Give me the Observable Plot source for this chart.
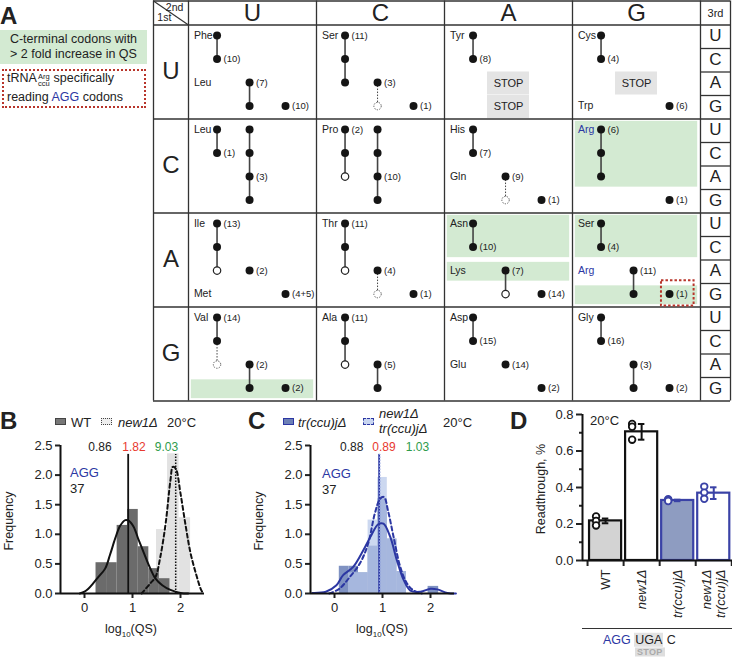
<!DOCTYPE html>
<html><head><meta charset="utf-8">
<script src="https://cdn.jsdelivr.net/npm/d3@7"></script>
<script src="https://cdn.jsdelivr.net/npm/@observablehq/plot@0.6"></script>
<style>
body{margin:0;background:#fff;font-family:"Liberation Sans",Arial,Helvetica,sans-serif;color:#222}
#fig{position:relative;width:732px;height:658px;overflow:hidden;background:#fff}
.abs{position:absolute;white-space:nowrap;line-height:1}
svg{overflow:visible}
.stk{display:inline-block;vertical-align:-4px;font-size:7.5px;line-height:7.5px;margin:0 4px 0 1px}
</style></head><body><div id="fig"></div>
<script>
// ---------------- DATA ----------------
const bases = ["U","C","A","G"];
// amino-acid labels: [first codon of the block, name]
const aaLabels = [["UUU","Phe"],["UUA","Leu"],["UCU","Ser"],["UAU","Tyr"],["UGU","Cys"],["UGG","Trp"],
  ["CUU","Leu"],["CCU","Pro"],["CAU","His"],["CAA","Gln"],["CGU","Arg"],
  ["AUU","Ile"],["AUG","Met"],["ACU","Thr"],["AAU","Asn"],["AAA","Lys"],["AGU","Ser"],["AGA","Arg"],
  ["GUU","Val"],["GCU","Ala"],["GAU","Asp"],["GAA","Glu"],["GGU","Gly"]];
// decoding dots: [codon, tRNA column, kind (f filled / o open / d dashed), tRNA gene count]
const decodeDots = [
  ["UUU",1,"f",""],["UUC",1,"f","(10)"],["UUA",2,"f","(7)"],["UUG",2,"f",""],["UUG",3,"f","(10)"],
  ["UCU",1,"f","(11)"],["UCC",1,"f",""],["UCA",1,"f",""],["UCA",2,"f","(3)"],["UCG",2,"d",""],["UCG",3,"f","(1)"],
  ["UAU",1,"f",""],["UAC",1,"f","(8)"],
  ["UGU",1,"f",""],["UGC",1,"f","(4)"],["UGG",3,"f","(6)"],
  ["CUU",1,"f",""],["CUC",1,"f","(1)"],["CUU",2,"f",""],["CUC",2,"f",""],["CUA",2,"f","(3)"],["CUG",2,"f",""],
  ["CCU",1,"f","(2)"],["CCC",1,"f",""],["CCA",1,"o",""],["CCU",2,"f",""],["CCC",2,"f",""],["CCA",2,"f","(10)"],["CCG",2,"f",""],
  ["CAU",1,"f",""],["CAC",1,"f","(7)"],["CAA",2,"f","(9)"],["CAG",2,"d",""],["CAG",3,"f","(1)"],
  ["CGU",1,"f","(6)"],["CGC",1,"f",""],["CGA",1,"f",""],["CGG",3,"f","(1)"],
  ["AUU",1,"f","(13)"],["AUC",1,"f",""],["AUA",1,"o",""],["AUA",2,"f","(2)"],["AUG",3,"f","(4+5)"],
  ["ACU",1,"f","(11)"],["ACC",1,"f",""],["ACA",1,"o",""],["ACA",2,"f","(4)"],["ACG",2,"d",""],["ACG",3,"f","(1)"],
  ["AAU",1,"f",""],["AAC",1,"f","(10)"],["AAA",2,"f","(7)"],["AAG",2,"o",""],["AAG",3,"f","(14)"],
  ["AGU",1,"f",""],["AGC",1,"f","(4)"],["AGA",2,"f","(11)"],["AGG",2,"f",""],["AGG",3,"f","(1)"],
  ["GUU",1,"f","(14)"],["GUC",1,"f",""],["GUA",1,"d",""],["GUA",2,"f","(2)"],["GUG",2,"f",""],["GUG",3,"f","(2)"],
  ["GCU",1,"f","(11)"],["GCC",1,"f",""],["GCA",1,"o",""],["GCA",2,"f","(5)"],["GCG",2,"f",""],
  ["GAU",1,"f",""],["GAC",1,"f","(15)"],["GAA",2,"f","(14)"],["GAG",3,"f","(2)"],
  ["GGU",1,"f",""],["GGC",1,"f","(16)"],["GGA",2,"f","(3)"],["GGG",2,"f",""],["GGG",3,"f","(2)"]];
// connections: [from codon, to codon, tRNA column, s solid / d dotted]
const decodeLinks = [
  ["UUU","UUC",1,"s"],["UUA","UUG",2,"s"],["UCU","UCA",1,"s"],["UCA","UCG",2,"d"],["UAU","UAC",1,"s"],["UGU","UGC",1,"s"],
  ["CUU","CUC",1,"s"],["CUU","CUG",2,"s"],["CCU","CCA",1,"s"],["CCU","CCG",2,"s"],["CAU","CAC",1,"s"],["CAA","CAG",2,"d"],["CGU","CGA",1,"s"],
  ["AUU","AUA",1,"s"],["ACU","ACA",1,"s"],["ACA","ACG",2,"d"],["AAU","AAC",1,"s"],["AAA","AAG",2,"s"],["AGU","AGC",1,"s"],["AGA","AGG",2,"s"],
  ["GUU","GUC",1,"s"],["GUC","GUA",1,"d"],["GUA","GUG",2,"s"],["GCU","GCA",1,"s"],["GCA","GCG",2,"s"],["GAU","GAC",1,"s"],["GGU","GGC",1,"s"],["GGA","GGG",2,"s"]];
// C-terminal codons with >2 fold QS increase: [first codon, last codon]
const qsUp = [["CGU","CGA"],["AAU","AAC"],["AAA","AAA"],["AGU","AGC"],["AGG","AGG"],["GUG","GUG"]];
const stopCodons = ["UAA","UAG","UGA"];
const aggCodon = "AGG";

// Panel B / C histograms: [bin start, bin end, frequency]
const wtHist = [[0.24,0.46,0.52],[0.46,0.68,0.52],[0.68,0.90,1.15],[0.90,1.12,1.42],[1.12,1.34,0.79],[1.34,1.56,0.42],[1.56,1.78,0.25]];
const new1Hist = [[1.28,1.50,0.25],[1.50,1.73,1.08],[1.73,1.97,2.36],[1.97,2.21,1.28]];
const wtDensity = [[-0.1,0],[0.0,0.03],[0.08,0.08],[0.18,0.17],[0.29,0.28],[0.43,0.42],[0.53,0.65],[0.64,0.93],[0.74,1.14],[0.85,1.24],[0.92,1.23],[1.02,1.13],[1.13,0.9],[1.23,0.7],[1.34,0.48],[1.48,0.25],[1.62,0.14],[1.79,0.06],[2.0,0.01],[2.16,0]];
const new1Density = [[1.19,0],[1.37,0.17],[1.48,0.28],[1.58,0.62],[1.69,1.18],[1.79,1.91],[1.84,2.14],[1.90,2.11],[2.0,1.69],[2.11,1.13],[2.21,0.68],[2.32,0.34],[2.42,0.08],[2.47,0]];
const bMedians = [0.91, 1.90];        // solid WT, dotted new1Δ
const bStats = ["0.86","1.82","9.03"];
const trHist = [[0.10,0.30,0.46],[0.30,0.50,0.46],[0.50,0.70,0.35],[0.70,0.90,0.80],[0.90,1.10,1.60],[1.10,1.30,0.92],[1.30,1.50,0.37],[1.95,2.17,0.12]];
const dblHist = [[0.30,0.50,0.35],[0.50,0.70,0.35],[0.70,0.90,1.24],[0.90,1.10,1.96],[1.10,1.30,0.92],[1.30,1.50,0.37]];
const trDensity = [[-0.46,0.01],[-0.18,0.03],[0.04,0.14],[0.18,0.31],[0.39,0.45],[0.6,0.73],[0.77,0.99],[0.91,1.17],[1.02,1.18],[1.16,0.96],[1.30,0.56],[1.44,0.23],[1.58,0.05],[1.79,0.03],[2.0,0.08],[2.14,0.07],[2.35,0.01],[2.53,0]];
const dblDensity = [[-0.11,0],[0.1,0.08],[0.32,0.28],[0.53,0.51],[0.7,0.84],[0.84,1.35],[0.95,1.6],[1.03,1.63],[1.12,1.38],[1.23,0.96],[1.37,0.45],[1.51,0.17],[1.65,0.05],[1.82,0]];
const cMedians = [0.93, 0.94];
const cStats = ["0.88","0.89","1.03"];

// Panel D
const strains = ["WT","new1Δ","tr(ccu)jΔ","new1Δ\ntr(ccu)jΔ"];
const rtMean = [0.217, 0.705, 0.329, 0.369];
const rtErr = [0.013, 0.043, 0.004, 0.032];
const rtReps = [[0.241,0.217,0.192],[0.748,0.733,0.662],[0.336,0.331,0.326],[0.405,0.372,0.338]];

// ---------------- LAYOUT HELPERS ----------------
const FONT = '"Liberation Sans",Arial,Helvetica,sans-serif';
const BLUE = "#2c37a3", RED = "#e8392f", GREEN = "#2e9b4b";
const fig = document.getElementById("fig");
function txt(html, x, y, css = "", anchor = "start") {
  const d = document.createElement("div");
  d.className = "abs"; d.innerHTML = html; d.style.cssText += css;
  d.style.left = x + "px"; d.style.top = y + "px";
  const tx = anchor === "middle" ? "-50%" : anchor === "end" ? "-100%" : "0";
  d.style.transform = `translate(${tx},-50%)`;
  fig.appendChild(d); return d;
}
function vtxt(html, x, y, css = "") {
  const d = document.createElement("div");
  d.className = "abs"; d.innerHTML = html; d.style.cssText += css;
  d.style.left = x + "px"; d.style.top = y + "px";
  d.style.transform = "translate(-50%,-50%) rotate(-90deg)";
  fig.appendChild(d); return d;
}
function box(x, y, w, h, css) {
  const d = document.createElement("div");
  d.className = "abs"; d.style.cssText = `left:${x}px;top:${y}px;width:${w}px;height:${h}px;box-sizing:border-box;` + css;
  fig.appendChild(d); return d;
}
function put(svg, x, y) { svg.style.position = "absolute"; svg.style.left = x + "px"; svg.style.top = y + "px"; fig.appendChild(svg); }

// ---------------- PANEL A ----------------
const bi = b => bases.indexOf(b);
const row = c => bi(c[0]) * 4 + bi(c[2]);
const col = c => bi(c[1]);
const tOff = [0, 0.223, 0.477, 0.758];
const X0 = -35 / 128, X1 = 4 + 30 / 128, Y0 = -24 / 23.5, Y1 = 16;
const dots = decodeDots.map(([c, t, k, n]) => ({c, t, k, n}));
const links = decodeLinks.map(([a, b, t, s]) => ({a, b, t, s}));
const labs = aaLabels.map(([c, aa]) => ({c, aa}));
const subrows = d3.range(16);
const cy = c => row(c) + 0.45;
const dx = d => col(d.c) + tOff[d.t];

const table = Plot.plot({
  width: 580, height: 402, margin: 0,
  x: {domain: [X0, X1], range: [1, 578], axis: null},
  y: {domain: [Y0, Y1], range: [0.5, 400.5], axis: null},
  style: {fontFamily: FONT, background: "transparent", color: "#222"},
  marks: [
    Plot.rect(qsUp, {x1: d => col(d[0]) + 0.022, x2: d => col(d[0]) + 0.978, y1: d => row(d[0]) + 0.1, y2: d => row(d[1]) + 0.9, fill: "#d3ead2"}),
    Plot.rect(stopCodons, {x1: d => col(d) + 0.336, x2: d => col(d) + 0.664, y1: d => row(d), y2: d => row(d) + 0.98, fill: "#e4e4e4"}),
    Plot.text(stopCodons, {x: d => col(d) + 0.5, y: d => row(d) + 0.47, text: () => "STOP", fontSize: 11, fill: "#222"}),
    Plot.ruleX([X0, 0, 1, 2, 3, 4, X1], {x: d => d, y1: () => Y0, y2: () => Y1, stroke: "#333", strokeWidth: 1.3}),
    Plot.ruleY([Y0, 0, 4, 8, 12, 16], {y: d => d, x1: () => X0, x2: () => X1, stroke: "#333", strokeWidth: 1.3}),
    Plot.ruleY(subrows.filter(s => s % 4), {y: d => d, x1: () => 4, x2: () => X1, stroke: "#333", strokeWidth: 1.3}),
    Plot.link([0], {x1: () => X0, y1: () => Y0, x2: () => 0, y2: () => 0, stroke: "#333", strokeWidth: 1.2}),
    Plot.text(["2nd"], {x: () => -0.04, y: () => Y0 * 0.72, text: d => d, textAnchor: "end", fontSize: 10.5}),
    Plot.text(["1st"], {x: () => X0 + 0.03, y: () => Y0 * 0.3, text: d => d, textAnchor: "start", fontSize: 10.5}),
    Plot.text(["3rd"], {x: () => (4 + X1) / 2, y: () => Y0 / 2, text: d => d, fontSize: 11}),
    Plot.text(bases, {x: (d, i) => i + 0.5, y: () => Y0 / 2 + 0.02, text: d => d, fontSize: 24}),
    Plot.text(bases, {x: () => X0 / 2, y: (d, i) => i * 4 + 1.95, text: d => d, fontSize: 24}),
    Plot.text(subrows, {x: () => (4 + X1) / 2, y: d => d + 0.47, text: d => bases[d % 4], fontSize: 17}),
    Plot.text(labs, {x: d => col(d.c) + 0.042, y: d => cy(d.c), text: "aa", textAnchor: "start", fontSize: 10.5, fill: d => d.aa === "Arg" ? BLUE : "#222"}),
    Plot.link(links.filter(l => l.s === "s"), {x1: l => col(l.a) + tOff[l.t], x2: l => col(l.a) + tOff[l.t], y1: l => cy(l.a), y2: l => cy(l.b), stroke: "#444", strokeWidth: 1.6}),
    Plot.link(links.filter(l => l.s === "d"), {x1: l => col(l.a) + tOff[l.t], x2: l => col(l.a) + tOff[l.t], y1: l => cy(l.a), y2: l => cy(l.b), stroke: "#444", strokeWidth: 1, strokeDasharray: "1.5,1.5"}),
    Plot.dot(dots.filter(d => d.k === "f"), {x: dx, y: d => cy(d.c), r: 4, fill: "#151515"}),
    Plot.dot(dots.filter(d => d.k === "o"), {x: dx, y: d => cy(d.c), r: 3.7, fill: "white", stroke: "#222", strokeWidth: 1.2}),
    Plot.dot(dots.filter(d => d.k === "d"), {x: dx, y: d => cy(d.c), r: 3.7, fill: "white", stroke: "#555", strokeWidth: 1, strokeDasharray: "1.3,1.3"}),
    Plot.text(dots.filter(d => d.n), {x: dx, y: d => cy(d.c), text: "n", dx: 6.5, textAnchor: "start", fontSize: 9.5, fill: "#222"}),
    Plot.rect([aggCodon], {x1: d => col(d) + 0.695, x2: d => col(d) + 0.95, y1: d => row(d) - 0.12, y2: d => row(d) + 0.96, fill: "none", stroke: "#b8352b", strokeWidth: 2, strokeDasharray: "2.5,2"})
  ]
});
put(table, 152, 0);

txt("A", 0, 16, "font-weight:bold;font-size:24px");
box(0, 30, 147, 34, "background:#d3ead2");
txt("C-terminal codons with<br>&gt; 2 fold increase in QS", 73.5, 47, "font-size:12.5px;line-height:15px;text-align:center;color:#222", "middle");
box(2, 69, 144, 39, "border:2px dotted #b8352b");
txt('tRNA<span class="stk">Arg<br>ccu</span>specifically', 7, 80, "font-size:12.5px;color:#222");
txt(`reading <span style="color:${BLUE}">AGG</span> codons`, 7, 97, "font-size:12.5px;color:#222");

// ---------------- PANELS B & C (histograms) ----------------
function histPlot(o) {
  return Plot.plot({
    width: 215, height: 210, marginLeft: 60, marginRight: 11, marginTop: 5, marginBottom: 57,
    x: {domain: [-0.5, 2.5]}, y: {domain: [0, 2.5]},
    style: {fontFamily: FONT, fontSize: "13px", color: "#222", background: "transparent"},
    marks: [
      Plot.rectY(o.h2, {x1: d => d[0], x2: d => d[1], y: d => d[2], fill: o.c2, fillOpacity: o.op2}),
      Plot.rectY(o.h1, {x1: d => d[0], x2: d => d[1], y: d => d[2], fill: o.c1, fillOpacity: o.op1}),
      Plot.ruleX([o.med[0]], {y1: () => 0, y2: () => 2.35, stroke: o.lc, strokeWidth: 1.8}),
      Plot.ruleX([o.med[1]], {y1: () => 0, y2: () => 2.35, stroke: o.lc2, strokeWidth: 1.5, strokeDasharray: "1.5,1.5"}),
      Plot.line(o.d1, {x: d => d[0], y: d => d[1], curve: "catmull-rom", stroke: o.lc, strokeWidth: 2}),
      Plot.line(o.d2, {x: d => d[0], y: d => d[1], curve: "catmull-rom", stroke: o.lc, strokeWidth: 2, strokeDasharray: "4,3"}),
      Plot.axisX({ticks: [0, 1, 2], tickFormat: d => String(d), tickSize: 5, tickPadding: 4, label: null, strokeWidth: 2}),
      Plot.axisY({ticks: d3.range(0, 2.51, 0.5), tickFormat: d3.format(".1f"), tickSize: 5, tickPadding: 3, label: null, strokeWidth: 2}),
      Plot.ruleY([0], {stroke: "#111", strokeWidth: 2}),
      Plot.ruleX([-0.5], {y1: () => 0, y2: () => 2.5, stroke: "#111", strokeWidth: 2})
    ]
  });
}
put(histPlot({h1: wtHist, h2: new1Hist, c1: "#6b6b6b", c2: "#e2e2e2", op1: 1, op2: 1, d1: wtDensity, d2: new1Density, med: bMedians, lc: "#111", lc2: "#111"}), 0, 440);
put(histPlot({h1: dblHist, h2: trHist, c1: "#b7c8ea", c2: "#7f92c2", op1: 0.7, op2: 1, d1: trDensity, d2: dblDensity, med: cMedians, lc: BLUE, lc2: "#8899dd"}), 250, 440);

// B texts
txt("B", 0, 421, "font-weight:bold;font-size:24px");
box(55, 418, 11, 7, "background:#777;border:1px solid #444");
txt("WT", 71, 422, "font-size:13px");
box(101, 418, 11, 7, "background:#eee;border:1px dotted #444");
txt("<i>new1Δ</i>", 118, 422, "font-size:13px");
txt("20°C", 167, 422, "font-size:13px");
[[100, "#222"], [134, RED], [166.5, GREEN]].forEach((s, i) => txt(bStats[i], s[0], 447, `font-size:12px;color:${s[1]}`, "middle"));
txt("AGG", 70, 472, `font-size:13px;color:${BLUE}`);
txt("37", 70, 488, "font-size:13px");
vtxt("Frequency", 9, 521, "font-size:12.5px");
txt("log<sub style='font-size:8px'>10</sub>(QS)", 131, 631, "font-size:12.5px", "middle");

// C texts
txt("C", 248, 421, "font-weight:bold;font-size:24px");
box(283, 418, 11, 7, "background:#6d80b6;border:1px solid #2c37a3");
txt("<i>tr(ccu)jΔ</i>", 298, 422, "font-size:13px");
box(363, 418, 11, 7, "background:#c8d5f0;border:1px dashed #2c37a3");
txt("<i>new1Δ</i>", 379, 413, "font-size:13px");
txt("<i>tr(ccu)jΔ</i>", 379, 428, "font-size:13px");
txt("20°C", 443, 422, "font-size:13px");
[[351.7, "#222"], [384, RED], [417.5, GREEN]].forEach((s, i) => txt(cStats[i], s[0], 447, `font-size:12px;color:${s[1]}`, "middle"));
txt("AGG", 322, 473, `font-size:13px;color:${BLUE}`);
txt("37", 322, 489, "font-size:13px");
vtxt("Frequency", 259, 521, "font-size:12.5px");
txt("log<sub style='font-size:8px'>10</sub>(QS)", 382, 631, "font-size:12.5px", "middle");

// ---------------- PANEL D ----------------
const dData = strains.map((s, i) => ({s, i, m: rtMean[i], e: rtErr[i]}));
const dReps = rtReps.flatMap((r, i) => r.map(v => ({i, v})));
const isBlue = i => i >= 2;
const ink = d => isBlue(d.i) ? "#3a42a6" : "#111";
const dPlot = Plot.plot({
  width: 242, height: 258, marginLeft: 92, marginRight: 0, marginTop: 14, marginBottom: 98,
  x: {domain: [-0.64, 3.52]}, y: {domain: [0, 0.8]},
  style: {fontFamily: FONT, fontSize: "13px", color: "#222", background: "transparent"},
  marks: [
    Plot.rectY(dData, {x1: d => d.i - 0.445, x2: d => d.i + 0.445, y: "m", fill: d => ["#d3d3d3", "#fff", "#8e9cc1", "#fff"][d.i], stroke: ink, strokeWidth: 2.2}),
    Plot.ruleX(dData, {x: "i", y1: d => d.m - d.e, y2: d => d.m + d.e, stroke: ink, strokeWidth: 2}),
    Plot.ruleY(dData, {y: d => d.m + d.e, x1: d => d.i - 0.09, x2: d => d.i + 0.09, stroke: ink, strokeWidth: 2}),
    Plot.ruleY(dData, {y: d => d.m - d.e, x1: d => d.i - 0.09, x2: d => d.i + 0.09, stroke: ink, strokeWidth: 2}),
    Plot.dot(dReps, {x: "i", y: "v", dx: -9.5, r: 3.3, fill: "white", stroke: ink, strokeWidth: 1.8}),
    Plot.axisY({ticks: [0, 0.2, 0.4, 0.6, 0.8], tickFormat: d3.format(".1f"), tickSize: 6, tickPadding: 3, label: null, strokeWidth: 2}),
    Plot.axisY({ticks: [0.1, 0.3, 0.5, 0.7], tickFormat: () => "", tickSize: 3, label: null, strokeWidth: 2}),
    Plot.axisX({ticks: [-0.5, 0.5, 1.5, 2.5, 3.5], tickFormat: () => "", tickSize: 6, label: null, strokeWidth: 2}),
    Plot.ruleY([0], {stroke: "#111", strokeWidth: 2}),
    Plot.ruleX([-0.64], {y1: () => 0, y2: () => 0.8, stroke: "#111", strokeWidth: 2}),
    Plot.text(dData.filter(d => d.i === 0), {x: "i", y: () => 0, text: "s", rotate: -90, textAnchor: "end", lineAnchor: "middle", dy: 9, fontSize: 13}),
    Plot.text(dData.filter(d => d.i > 0), {x: "i", y: () => 0, text: "s", rotate: -90, textAnchor: "end", lineAnchor: "middle", dy: 9, fontSize: 13, fontStyle: "italic", lineHeight: 1.05})
  ]
});
put(dPlot, 490, 400);
txt("D", 510, 421, "font-weight:bold;font-size:24px");
txt("20°C", 590, 420, "font-size:13px");
vtxt("Readthrough, %", 541, 489, "font-size:12.5px");
box(582, 627.5, 150, 1.3, "background:#333");
txt(`<span style="color:${BLUE}">AGG</span> <span style="background:#e2e2e2;padding:0 1px">UGA</span> C`, 603, 640, "font-size:12.5px");
txt("STOP", 635, 652, "font-size:9px;font-weight:bold;color:#aaa;background:#dedede;padding:0 2px;letter-spacing:0.3px");
</script></body></html>
